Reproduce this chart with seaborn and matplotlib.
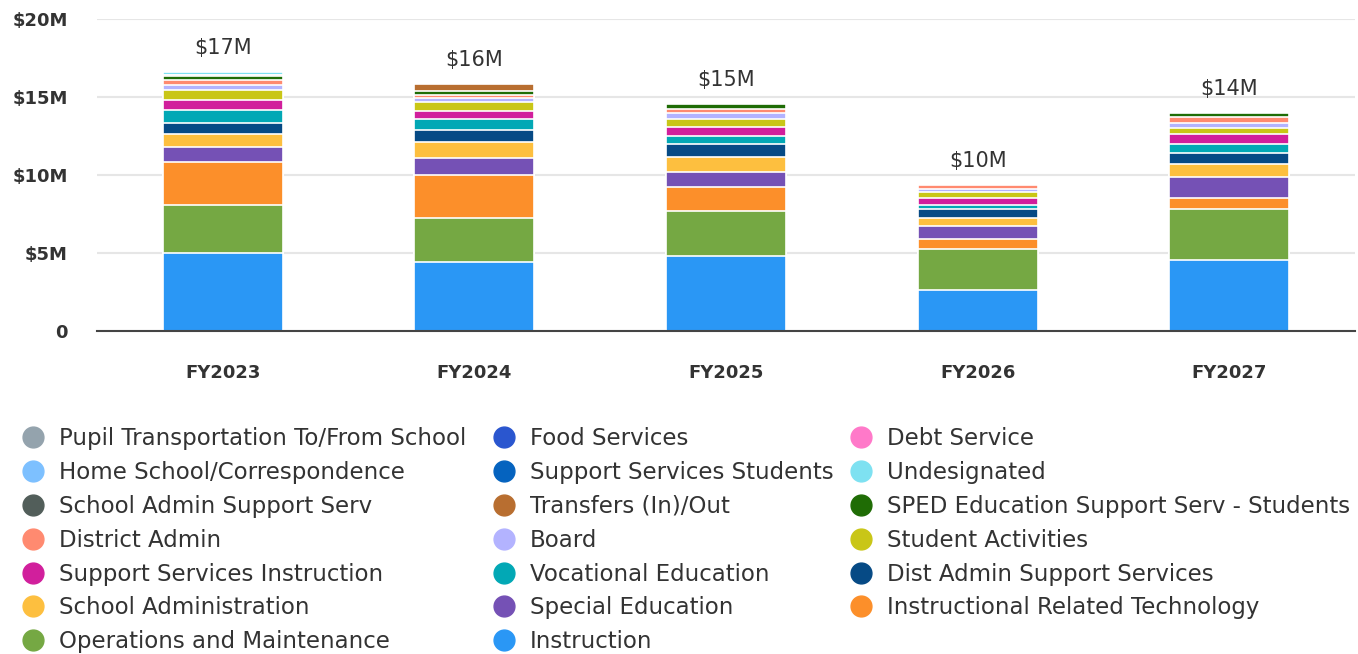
import numpy as np
import pandas as pd
import seaborn as sns
import matplotlib.pyplot as plt
from matplotlib.lines import Line2D

years = ["FY2023", "FY2024", "FY2025", "FY2026", "FY2027"]

# values in $M, listed bottom of the stack first
instruction = [5.00, 4.42, 4.81, 2.63, 4.55]
operations = [3.08, 2.82, 2.88, 2.63, 3.25]
instr_tech = [2.73, 2.74, 1.56, 0.62, 0.73]
special_ed = [0.97, 1.09, 0.94, 0.85, 1.32]
school_admin = [0.84, 1.07, 0.96, 0.49, 0.86]
dist_admin_support = [0.74, 0.73, 0.86, 0.60, 0.69]
vocational = [0.81, 0.71, 0.49, 0.24, 0.60]
support_instruction = [0.62, 0.50, 0.59, 0.47, 0.63]
student_activities = [0.63, 0.60, 0.49, 0.35, 0.36]
board = [0.34, 0.24, 0.38, 0.25, 0.34]
district_admin = [0.35, 0.22, 0.30, 0.21, 0.37]
sped_support = [0.24, 0.26, 0.27, 0.00, 0.26]
transfers = [0.06, 0.46, 0.00, 0.00, 0.00]
school_admin_support = [0.03, 0.00, 0.00, 0.00, 0.00]
undesignated = [0.15, 0.00, 0.00, 0.00, 0.00]
support_students = [0.00, 0.00, 0.00, 0.00, 0.00]
home_school = [0.00, 0.00, 0.00, 0.00, 0.00]
debt_service = [0.00, 0.00, 0.00, 0.04, 0.00]
food_services = [0.00, 0.00, 0.00, 0.00, 0.00]
pupil_transport = [0.00, 0.00, 0.00, 0.00, 0.00]

series = [
    ("Instruction", instruction, "#2A97F5"),
    ("Operations and Maintenance", operations, "#75A843"),
    ("Instructional Related Technology", instr_tech, "#FC8F2A"),
    ("Special Education", special_ed, "#7551B5"),
    ("School Administration", school_admin, "#FDBF3F"),
    ("Dist Admin Support Services", dist_admin_support, "#064A85"),
    ("Vocational Education", vocational, "#02A8B5"),
    ("Support Services Instruction", support_instruction, "#D11F9C"),
    ("Student Activities", student_activities, "#C9C617"),
    ("Board", board, "#B3B3FF"),
    ("District Admin", district_admin, "#FF8A70"),
    ("SPED Education Support Serv - Students", sped_support, "#1F6C05"),
    ("Transfers (In)/Out", transfers, "#B86E30"),
    ("School Admin Support Serv", school_admin_support, "#525E5A"),
    ("Undesignated", undesignated, "#7EE1F1"),
    ("Support Services Students", support_students, "#0563BF"),
    ("Home School/Correspondence", home_school, "#7DC0FF"),
    ("Debt Service", debt_service, "#FF79C9"),
    ("Food Services", food_services, "#2A56CF"),
    ("Pupil Transportation To/From School", pupil_transport, "#94A3AD"),
]

df = pd.DataFrame({name: vals for name, vals, _ in series}, index=years)
cum = df.cumsum(axis=1)
totals = cum.iloc[:, -1]

sns.set_style("white")
plt.rcParams["font.family"] = ["DejaVu Sans"]
text_color = "#333333"

fig = plt.figure(figsize=(13.58, 6.54), dpi=100)
ax = fig.add_axes([97 / 1358, 1 - 331 / 654, 1258 / 1358, 312 / 654])

# draw cumulative bars from the top of the stack downward
for name, _, color in reversed(series):
    sns.barplot(x=years, y=cum[name].values, color=color, width=0.477,
                edgecolor="white", linewidth=1.2, saturation=1, ax=ax)

ax.set_ylim(0, 20)
ax.set_xlim(-0.5, 4.5)
ax.set_yticks([0, 5, 10, 15, 20])
ax.set_yticklabels(["0", "$5M", "$10M", "$15M", "$20M"],
                   fontsize=13, fontweight="bold", color=text_color)
ax.tick_params(axis="y", length=0, pad=21)
ax.tick_params(axis="x", length=0, pad=24)
for lbl in ax.get_xticklabels():
    lbl.set_fontsize(13)
    lbl.set_fontweight("bold")
    lbl.set_color(text_color)

ax.grid(axis="y", color="#e6e6e6", linewidth=1.5)
ax.set_axisbelow(True)
sns.despine(ax=ax, left=True, top=True, right=True)
ax.spines["bottom"].set_color("#444444")
ax.spines["bottom"].set_linewidth(1.5)
ax.set_xlabel("")
ax.set_ylabel("")

for i, tot in enumerate(totals):
    ax.annotate(f"${int(np.ceil(tot))}M", (i, tot), xytext=(0, 10),
                textcoords="offset points", ha="center", va="bottom",
                fontsize=15, color=text_color)

# legend: three columns laid out row by row
colors = {name: c for name, _, c in series}
columns = [
    ["Pupil Transportation To/From School", "Home School/Correspondence",
     "School Admin Support Serv", "District Admin",
     "Support Services Instruction", "School Administration",
     "Operations and Maintenance"],
    ["Food Services", "Support Services Students", "Transfers (In)/Out",
     "Board", "Vocational Education", "Special Education", "Instruction"],
    ["Debt Service", "Undesignated", "SPED Education Support Serv - Students",
     "Student Activities", "Dist Admin Support Services",
     "Instructional Related Technology"],
]
col_x = [22, 493, 850]
for cx, names in zip(col_x, columns):
    handles = [Line2D([], [], marker="o", linestyle="", markersize=15,
                      markerfacecolor=colors[n], markeredgecolor=colors[n])
               for n in names]
    fig.legend(handles, names, loc="upper left",
               bbox_to_anchor=(cx / 1358, 1 - 427 / 654),
               frameon=False, fontsize=16.5, labelcolor=text_color,
               handlelength=1.0, handletextpad=0.6, labelspacing=0.475,
               borderpad=0, borderaxespad=0)

fig.savefig("out.png", dpi=100)
